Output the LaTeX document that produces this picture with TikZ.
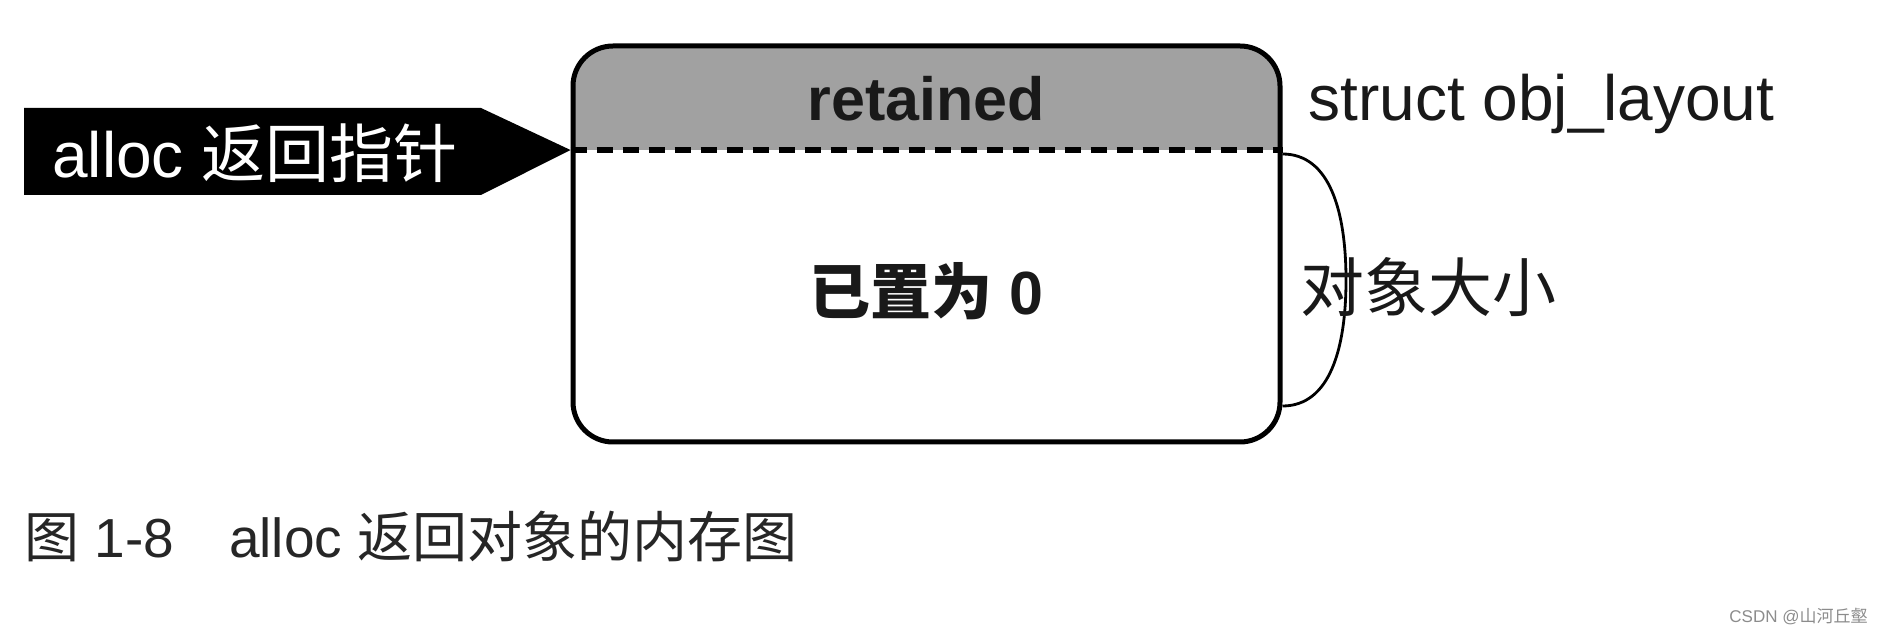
\documentclass[tikz,border=0pt]{standalone}
\usepackage{fontspec}
\setmainfont{Liberation Sans}
\newfontfamily\cjk{Noto Sans CJK SC}
\usetikzlibrary{positioning}

\begin{document}
\begin{tikzpicture}[x=0.5pt,y=0.5pt,
    label/.style={inner sep=0pt,text=black!90,font=\fontsize{32}{38}\selectfont},
    boldlabel/.style={label,font=\fontsize{30.5}{36}\selectfont\bfseries},
    captext/.style={inner sep=0pt,text=black!85,font=\fontsize{27.5}{33}\selectfont},
    block/.style={draw,line width=2.5pt,rounded corners=20pt,inner sep=0pt,
      minimum width=353.5pt,minimum height=198pt},
    split/.style={line width=2.8pt,dash pattern=on 8pt off 5pt}]
  \useasboundingbox (0,0) rectangle (1884,632);
  % gray header of the object
  \fill[black!37] (573,482) -- (573,546) arc[start angle=180,end angle=90,radius=40]
    -- (1240,586) arc[start angle=90,end angle=0,radius=40] -- (1280,482) -- cycle;
  \node[block] (obj) at (926.5,388) {};
  \coordinate (cut) at (0,482);
  \draw[split] (obj.west |- cut) -- (obj.east |- cut);
  \node[boldlabel,anchor=base] (retained) at (926.5,511) {retained};
  \node[boldlabel,anchor=base] (zero) at (926.5,317) {{\cjk\bfseries 已置为} 0};
  \node[label,anchor=base west] (layout) at (1308,511) {struct obj\_layout};
  % pointer returned by alloc
  \fill (24,524) -- (481,524) -- (obj.west |- cut) -- (481,437) -- (24,437) -- cycle;
  \node[label,text=white,anchor=base west] (ptr) at (52,454) {alloc {\cjk 返回指针}};
  % object size
  \coordinate (sztop) at (obj.east |- 0,478);
  \coordinate (szbot) at (obj.east |- 0,226);
  \draw[line width=1.4pt] (sztop) .. controls (1330,478) and (1346,420) .. (1346,352)
    .. controls (1346,284) and (1330,226) .. (szbot);
  \node[label,anchor=base west] (size) at (1300,320) {\cjk 对象大小};
  % caption
  \node[captext,anchor=base west] (caption) at (24,75)
    {{\cjk 图} 1-8\quad alloc {\cjk 返回对象的内存图}};
  \node[inner sep=0pt,text=black!45,font=\fontsize{8.5}{10}\selectfont,anchor=base east]
    (mark) at (1868,10) {CSDN @{\cjk 山河丘壑}};
\end{tikzpicture}
\end{document}
